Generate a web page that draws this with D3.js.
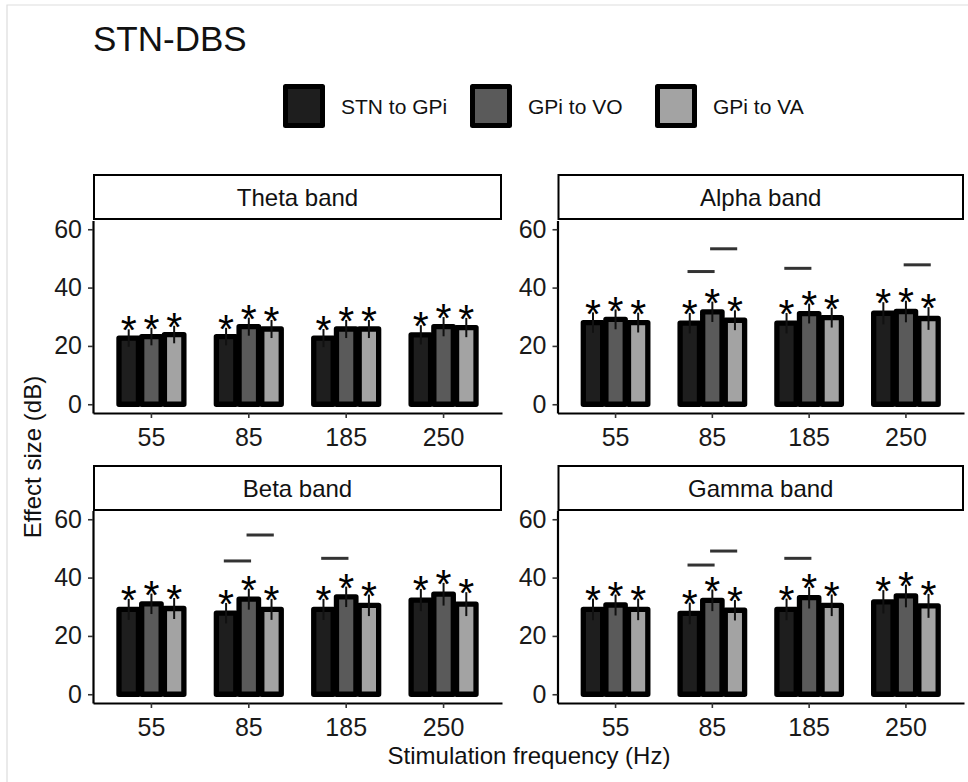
<!DOCTYPE html>
<html>
<head>
<meta charset="utf-8">
<script src="https://cdn.jsdelivr.net/npm/d3@7"></script>
<style>
  html, body { margin: 0; padding: 0; background: #fff; }
  svg { display: block; font-family: "Liberation Sans", Arial, Helvetica, sans-serif; }
</style>
</head>
<body>
<svg id="chart" width="968" height="782"></svg>
<script>
// ---- data ----
const frequencies = ["55", "85", "185", "250"];
const pathways = ["STN to GPi", "GPi to VO", "GPi to VA"];
const bands = ["Theta band", "Alpha band", "Beta band", "Gamma band"];
const yTicks = [0, 20, 40, 60];

// mean effect size (dB), one array per band, rows = pathway, columns = frequency
const thetaMean = [[22.7, 23.2, 22.7, 23.8], [23.2, 26.6, 25.8, 26.6], [23.9, 25.8, 25.8, 26.3]];
const alphaMean = [[28.0, 27.8, 27.8, 31.2], [29.1, 31.7, 31.1, 31.8], [28.0, 28.8, 29.7, 29.4]];
const betaMean  = [[29.1, 27.8, 29.1, 32.3], [31.0, 32.6, 33.4, 34.3], [29.4, 29.1, 30.5, 30.9]];
const gammaMean = [[29.1, 27.7, 29.1, 31.7], [30.6, 32.2, 33.1, 33.7], [29.1, 28.8, 30.5, 30.3]];

// standard error of each mean
const thetaErr = [[3.0, 3.0, 3.1, 3.3], [3.0, 3.1, 3.1, 3.3], [3.0, 3.1, 3.1, 3.3]];
const alphaErr = [[3.5, 3.5, 3.5, 3.8], [3.4, 3.5, 3.4, 3.7], [3.4, 3.4, 3.4, 3.9]];
const betaErr  = [[3.6, 3.5, 3.6, 3.8], [3.5, 3.6, 3.5, 3.9], [3.6, 3.6, 3.7, 4.1]];
const gammaErr = [[3.7, 3.7, 3.7, 4.0], [3.6, 3.7, 3.7, 3.9], [3.7, 3.5, 3.7, 4.1]];

// significant pairwise differences: band, frequency, the two pathways compared, bar height (dB)
const sigBand = ["Alpha band", "Alpha band", "Alpha band", "Alpha band",
                 "Beta band", "Beta band", "Beta band",
                 "Gamma band", "Gamma band", "Gamma band"];
const sigFreq = ["85", "85", "185", "250", "85", "85", "185", "85", "85", "185"];
const sigFrom = [0, 1, 0, 1, 0, 1, 0, 0, 1, 0];
const sigTo   = [1, 2, 1, 2, 1, 2, 1, 1, 2, 1];
const sigY    = [45.5, 53.3, 46.6, 47.8, 45.7, 54.6, 46.6, 44.3, 49.1, 46.6];

const means = [thetaMean, alphaMean, betaMean, gammaMean];
const errs = [thetaErr, alphaErr, betaErr, gammaErr];

// ---- layout ----
const fills = ["#1e1e1e", "#5a5a5a", "#a3a3a3"];
const cols = [[93, 502], [557.5, 964]];
const rows = [{ strip: [175, 219], panel: [220.5, 413] }, { strip: [466, 510], panel: [510.5, 703] }];

const svg = d3.select("#chart");

// outer frame
svg.append("path")
  .attr("d", "M7,782 V5 H968")
  .attr("fill", "none").attr("stroke", "#dddddd").attr("stroke-width", 1.2);

// title
svg.append("text").attr("x", 93).attr("y", 51)
  .attr("font-size", 35).attr("fill", "#111").text("STN-DBS");

// legend
const legendX = [283, 470, 655];
pathways.forEach((p, i) => {
  svg.append("rect")
    .attr("x", legendX[i] + 2.5).attr("y", 86.5).attr("width", 37).attr("height", 39)
    .attr("fill", fills[i]).attr("stroke", "#000").attr("stroke-width", 5)
    .attr("stroke-linejoin", "round");
  svg.append("text")
    .attr("x", legendX[i] + 58).attr("y", 113.5)
    .attr("font-size", 21).attr("fill", "#111").text(p);
});

// axis titles
svg.append("text")
  .attr("transform", "translate(41,457) rotate(-90)")
  .attr("text-anchor", "middle").attr("font-size", 24).attr("fill", "#111")
  .text("Effect size (dB)");
svg.append("text")
  .attr("x", 529).attr("y", 764).attr("text-anchor", "middle")
  .attr("font-size", 24).attr("fill", "#111")
  .text("Stimulation frequency (Hz)");

const starSize = 41;

bands.forEach((band, bi) => {
  const [x0, x1] = cols[bi % 2];
  const row = rows[Math.floor(bi / 2)];
  const [pt, pb] = row.panel;
  const g = svg.append("g");

  // strip
  g.append("rect")
    .attr("x", x0 + 1).attr("y", row.strip[0]).attr("width", x1 - x0 - 2)
    .attr("height", row.strip[1] - row.strip[0])
    .attr("fill", "#fff").attr("stroke", "#000").attr("stroke-width", 2);
  g.append("text")
    .attr("x", (x0 + x1) / 2).attr("y", (row.strip[0] + row.strip[1]) / 2 + 8.5)
    .attr("text-anchor", "middle").attr("font-size", 24).attr("fill", "#111")
    .text(band);

  // scales: discrete positions with 0.6-unit margins, 0.7-wide dodge groups
  const x = d3.scaleBand().domain(frequencies).range([x0, x1])
    .paddingInner(0.3).paddingOuter(0.25);
  const xi = d3.scaleBand().domain(d3.range(pathways.length)).range([0, x.bandwidth()]);
  const barW = x.step() * 0.2;
  const y = d3.scaleLinear().domain([-3, 63]).range([pb, pt]);
  const cx = (f, s) => x(f) + xi(s) + xi.bandwidth() / 2;

  // bars
  const bars = [];
  pathways.forEach((p, s) => frequencies.forEach((f, fi) => {
    bars.push({ s, f, m: means[bi][s][fi], e: errs[bi][s][fi] });
  }));
  g.selectAll("rect.bar").data(bars).join("rect").attr("class", "bar")
    .attr("x", d => cx(d.f, d.s) - barW / 2)
    .attr("width", barW)
    .attr("y", d => y(d.m))
    .attr("height", d => y(0) - y(d.m))
    .attr("fill", d => fills[d.s])
    .attr("stroke", "#000").attr("stroke-width", 5.3)
    .attr("stroke-linejoin", "round");

  // error bars
  g.selectAll("line.err").data(bars).join("line").attr("class", "err")
    .attr("x1", d => cx(d.f, d.s)).attr("x2", d => cx(d.f, d.s))
    .attr("y1", d => y(d.m + d.e)).attr("y2", d => y(d.m - d.e))
    .attr("stroke", "#111").attr("stroke-width", 2);

  // significance stars
  g.selectAll("text.star").data(bars).join("text").attr("class", "star")
    .attr("x", d => cx(d.f, d.s))
    .attr("y", d => y(d.m + d.e) + starSize * 0.43 - 2.5)
    .attr("text-anchor", "middle").attr("font-size", starSize).attr("fill", "#000")
    .text("*");

  // pairwise comparison bars
  const sig = sigBand.map((b, k) => ({ b, f: sigFreq[k], a: sigFrom[k], c: sigTo[k], v: sigY[k] }))
    .filter(d => d.b === band);
  g.selectAll("line.sig").data(sig).join("line").attr("class", "sig")
    .attr("x1", d => (cx(d.f, d.a) + cx(d.f, d.c)) / 2 - x.step() * 0.14)
    .attr("x2", d => (cx(d.f, d.a) + cx(d.f, d.c)) / 2 + x.step() * 0.14)
    .attr("y1", d => y(d.v)).attr("y2", d => y(d.v))
    .attr("stroke", "#333").attr("stroke-width", 3);

  // axes
  const ya = g.append("g").attr("transform", `translate(${x0},0)`)
    .call(d3.axisLeft(y).tickValues(yTicks).tickSize(5).tickSizeOuter(0).tickPadding(6));
  const xa = g.append("g").attr("transform", `translate(0,${pb})`)
    .call(d3.axisBottom(x).tickSize(5).tickSizeOuter(0).tickPadding(10));
  [ya, xa].forEach(a => {
    a.select(".domain").attr("stroke", "#000").attr("stroke-width", 2.2);
    a.selectAll(".tick line").attr("stroke", "#333").attr("stroke-width", 1.6);
    a.selectAll(".tick text").attr("font-size", 25).attr("fill", "#1a1a1a")
      .attr("font-family", "Liberation Sans, Arial, sans-serif");
  });
});
</script>
</body>
</html>
